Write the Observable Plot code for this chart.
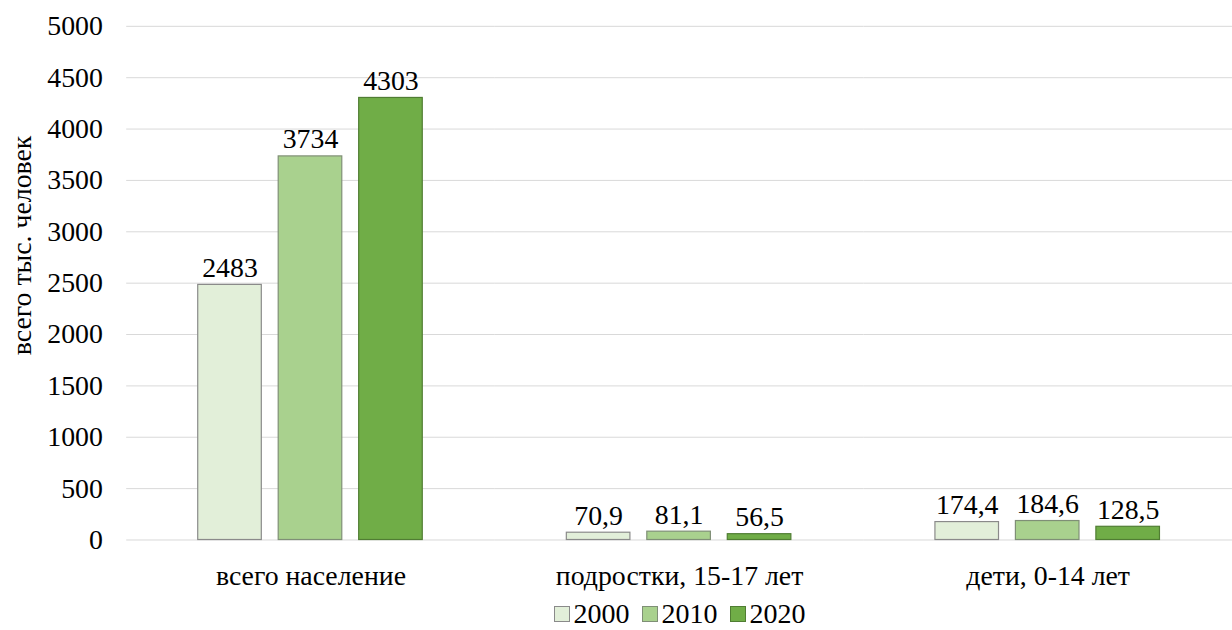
<!DOCTYPE html>
<html><head><meta charset="utf-8">
<script src="https://cdn.jsdelivr.net/npm/d3@7"></script>
<script src="https://cdn.jsdelivr.net/npm/@observablehq/plot@0.6"></script>
<style>
body{margin:0;background:#fff;overflow:hidden;}
#chart{height:600px;overflow:hidden;}
#legend{display:flex;justify-content:center;align-items:center;gap:12px;font-size:28px;color:#000;width:1232px;padding-left:127px;box-sizing:border-box;margin-top:0px;line-height:28px;height:28px;}
#legend span.item{display:flex;align-items:center;gap:4px;}
#legend span.sw{width:14px;height:14px;border:1px solid #7f7f7f;display:inline-block;}
</style></head>
<body style="font-family:'Liberation Serif'">
<div id="chart"></div>
<div id="legend" style="font-family:'Liberation Serif'"></div>
<script>
const categories = ["всего население", "подростки, 15-17 лет", "дети, 0-14 лет"];
const years = ["2000", "2010", "2020"];
const values2000 = [2483, 70.9, 174.4];
const values2010 = [3734, 81.1, 184.6];
const values2020 = [4303, 56.5, 128.5];
const yTicks = [0, 500, 1000, 1500, 2000, 2500, 3000, 3500, 4000, 4500, 5000];
const colors = ["#e2efd9", "#a9d18e", "#70ad47"];
const strokes = ["#8a8a8a", "#7f8f76", "#507d33"];
const yLabel = "всего тыс. человек";
const FONT = "Liberation Serif";

const series = [values2000, values2010, values2020];
const data = [];
categories.forEach((c, i) => years.forEach((y, j) => data.push({category: c, year: y, value: series[j][i]})));
const fmt = v => Number.isInteger(v) ? String(v) : v.toFixed(1).replace(".", ",");

const chart = Plot.plot({
  width: 1240, height: 600,
  marginLeft: 127, marginRight: 0, marginTop: 26, marginBottom: 57,
  style: {fontSize: "28px", color: "#000", background: "#fff", overflow: "visible", display: "block"},
  fx: {domain: categories, padding: 0, label: null},
  x: {domain: years, paddingInner: 0.207, paddingOuter: 0.866, axis: null},
  y: {domain: [0, 5000], label: null},
  color: {domain: years, range: colors},
  marks: [
    Plot.gridY({ticks: yTicks, stroke: "#d9d9d9", strokeOpacity: 1, strokeWidth: 1}),
    Plot.axisY({ticks: yTicks, tickFormat: d => String(d), tickSize: 0, tickPadding: 24, label: null, fontSize: 28, fontFamily: FONT}),
    Plot.axisFx({anchor: "bottom", tickSize: 0, tickPadding: 25, label: null, fontSize: 28, fontFamily: FONT}),
    Plot.barY(data, {fx: "category", x: "year", y: "value", fill: "year", stroke: d => strokes[years.indexOf(d.year)], strokeWidth: 1.2}),
    Plot.text(data, {fx: "category", x: "year", y: "value", text: d => fmt(d.value), lineAnchor: "bottom", dy: -8, fontSize: 28, fontFamily: FONT, fill: "#000"}),
    Plot.text([yLabel], {text: d => d, frameAnchor: "left", textAnchor: "middle", rotate: -90, dx: -105, dy: -38, fontSize: 28, fontFamily: FONT, fill: "#000", facet: "super"})
  ]
});
chart.style.fontFamily = FONT;
document.getElementById("chart").appendChild(chart);

const legend = document.getElementById("legend");
years.forEach((y, i) => {
  const item = document.createElement("span");
  item.className = "item";
  const sw = document.createElement("span");
  sw.className = "sw";
  sw.style.background = colors[i];
  sw.style.borderColor = strokes[i];
  item.appendChild(sw);
  item.appendChild(document.createTextNode(y));
  legend.appendChild(item);
});
</script>
</body></html>
